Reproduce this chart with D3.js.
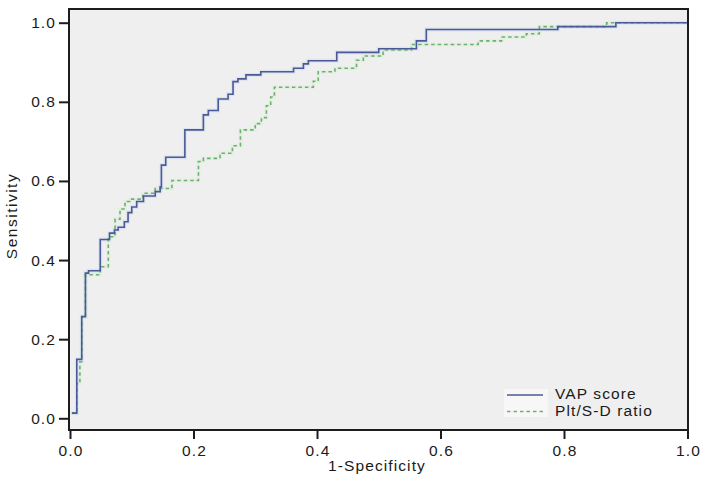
<!DOCTYPE html>
<html>
<head>
<meta charset="utf-8">
<script src="https://cdn.jsdelivr.net/npm/d3@7"></script>
<style>
  html, body { margin: 0; padding: 0; background: #ffffff; }
  svg { display: block; }
  text { font-family: "Liberation Sans", Arial, sans-serif; fill: #1a1a1a; }
</style>
</head>
<body>
<svg id="chart" width="702" height="483"></svg>
<script>
// ---- data ----
const seriesNames = ["VAP score", "Plt/S-D ratio"];
const xTicks = [0.0, 0.2, 0.4, 0.6, 0.8, 1.0];
const yTicks = [0.0, 0.2, 0.4, 0.6, 0.8, 1.0];
const xLabel = "1-Specificity";
const yLabel = "Sensitivity";

// VAP score ROC steps: at each fpr the sensitivity jumps to tpr
const vapFpr = [0.003, 0.011, 0.019, 0.025, 0.030, 0.049, 0.064, 0.072, 0.078, 0.088, 0.094, 0.100, 0.108, 0.119, 0.138, 0.146, 0.148, 0.155, 0.186, 0.216, 0.224, 0.240, 0.256, 0.264, 0.272, 0.285, 0.309, 0.362, 0.378, 0.386, 0.432, 0.500, 0.561, 0.577, 0.790, 0.884, 1.000];
const vapTpr = [0.013, 0.149, 0.257, 0.367, 0.373, 0.452, 0.468, 0.476, 0.483, 0.497, 0.520, 0.534, 0.548, 0.562, 0.573, 0.585, 0.640, 0.660, 0.729, 0.767, 0.778, 0.807, 0.819, 0.851, 0.858, 0.868, 0.876, 0.885, 0.896, 0.904, 0.925, 0.934, 0.954, 0.983, 0.990, 1.000, 1.000];

// Plt/S-D ratio ROC steps
const pltFpr = [0.003, 0.011, 0.016, 0.019, 0.025, 0.049, 0.062, 0.073, 0.081, 0.089, 0.097, 0.118, 0.138, 0.165, 0.208, 0.216, 0.243, 0.263, 0.276, 0.300, 0.310, 0.318, 0.325, 0.331, 0.394, 0.402, 0.429, 0.464, 0.475, 0.507, 0.553, 0.661, 0.699, 0.739, 0.760, 0.869, 1.000];
const pltTpr = [0.013, 0.088, 0.143, 0.257, 0.363, 0.383, 0.459, 0.503, 0.529, 0.548, 0.554, 0.569, 0.581, 0.601, 0.649, 0.657, 0.670, 0.689, 0.729, 0.745, 0.760, 0.790, 0.812, 0.837, 0.852, 0.876, 0.885, 0.905, 0.916, 0.931, 0.945, 0.954, 0.964, 0.972, 0.990, 1.000, 1.000];

// ---- drawing ----
const svg = d3.select("#chart");
const plot = { left: 69, right: 688, top: 9, bottom: 430 };
const x = d3.scaleLinear().domain([0, 1]).range([70, 687.5]);
const y = d3.scaleLinear().domain([0, 1]).range([418.3, 22.7]);
const FS = 15.5, LS = "1.1px";

// plot background
svg.append("rect")
  .attr("x", plot.left).attr("y", plot.top)
  .attr("width", plot.right - plot.left).attr("height", plot.bottom - plot.top)
  .attr("fill", "#efefef");

const line = d3.line().curve(d3.curveStepAfter)
  .x(d => x(d[0])).y(d => y(d[1]));

const pltData = pltFpr.map((v, i) => [v, pltTpr[i]]);
const vapData = vapFpr.map((v, i) => [v, vapTpr[i]]);

// soft halos (as in the scanned reference), then the lines
svg.append("path").datum(pltData)
  .attr("d", line).attr("fill", "none")
  .attr("stroke", "#dcedda").attr("stroke-width", 3.5).attr("opacity", 0.6);
svg.append("path").datum(vapData)
  .attr("d", line).attr("fill", "none")
  .attr("stroke", "#d6e0f0").attr("stroke-width", 4).attr("opacity", 0.7);
svg.append("path").datum(pltData)
  .attr("d", line).attr("fill", "none")
  .attr("stroke", "#6cb26c").attr("stroke-width", 1.6)
  .attr("stroke-dasharray", "3.5,3");
svg.append("path").datum(vapData)
  .attr("d", line).attr("fill", "none")
  .attr("stroke", "#4b5a96").attr("stroke-width", 1.6);

// frame
svg.append("path")
  .attr("d", `M${plot.left},${plot.bottom}V${plot.top}H${plot.right}V${plot.bottom}Z`)
  .attr("fill", "none").attr("stroke", "#1c1c1c").attr("stroke-width", 2);

// axes
const fmt = d3.format(".1f");
const xAxis = svg.append("g").attr("transform", `translate(0,${plot.bottom})`)
  .call(d3.axisBottom(x).tickValues(xTicks).tickFormat(fmt).tickSize(9).tickSizeOuter(0).tickPadding(6));
const yAxis = svg.append("g").attr("transform", `translate(${plot.left},0)`)
  .call(d3.axisLeft(y).tickValues(yTicks).tickFormat(fmt).tickSize(10).tickSizeOuter(0).tickPadding(3));
[xAxis, yAxis].forEach(g => {
  g.select(".domain").remove();
  g.selectAll(".tick line").attr("stroke", "#1c1c1c").attr("stroke-width", 2);
  g.selectAll(".tick text")
    .attr("font-family", "Liberation Sans, Arial, sans-serif")
    .attr("font-size", FS).attr("fill", "#1a1a1a")
    .style("letter-spacing", LS);
});
xAxis.selectAll(".tick text").attr("dx", "0.5px");

// axis titles
svg.append("text").attr("x", 377).attr("y", 471)
  .attr("text-anchor", "middle").attr("font-size", FS)
  .style("letter-spacing", LS).text(xLabel);
svg.append("text")
  .attr("transform", "translate(17,216) rotate(-90)")
  .attr("text-anchor", "middle").attr("font-size", FS)
  .style("letter-spacing", "1.5px").text(yLabel);

// legend
const legend = svg.append("g");
legend.append("rect").attr("x", 504).attr("y", 389).attr("width", 44).attr("height", 28)
  .attr("fill", "#f7f7f7");
const legendItems = [
  { name: seriesNames[0], color: "#4b5a96", dash: null, ly: 395, ty: 399 },
  { name: seriesNames[1], color: "#6cb26c", dash: "3.5,3", ly: 411.5, ty: 416 }
];
legendItems.forEach(it => {
  legend.append("line").attr("x1", 507).attr("x2", 543)
    .attr("y1", it.ly).attr("y2", it.ly)
    .attr("stroke", it.color).attr("stroke-width", 1.6)
    .attr("stroke-dasharray", it.dash);
  legend.append("text").attr("x", 555).attr("y", it.ty)
    .attr("font-size", FS).style("letter-spacing", LS).text(it.name);
});
</script>
</body>
</html>
